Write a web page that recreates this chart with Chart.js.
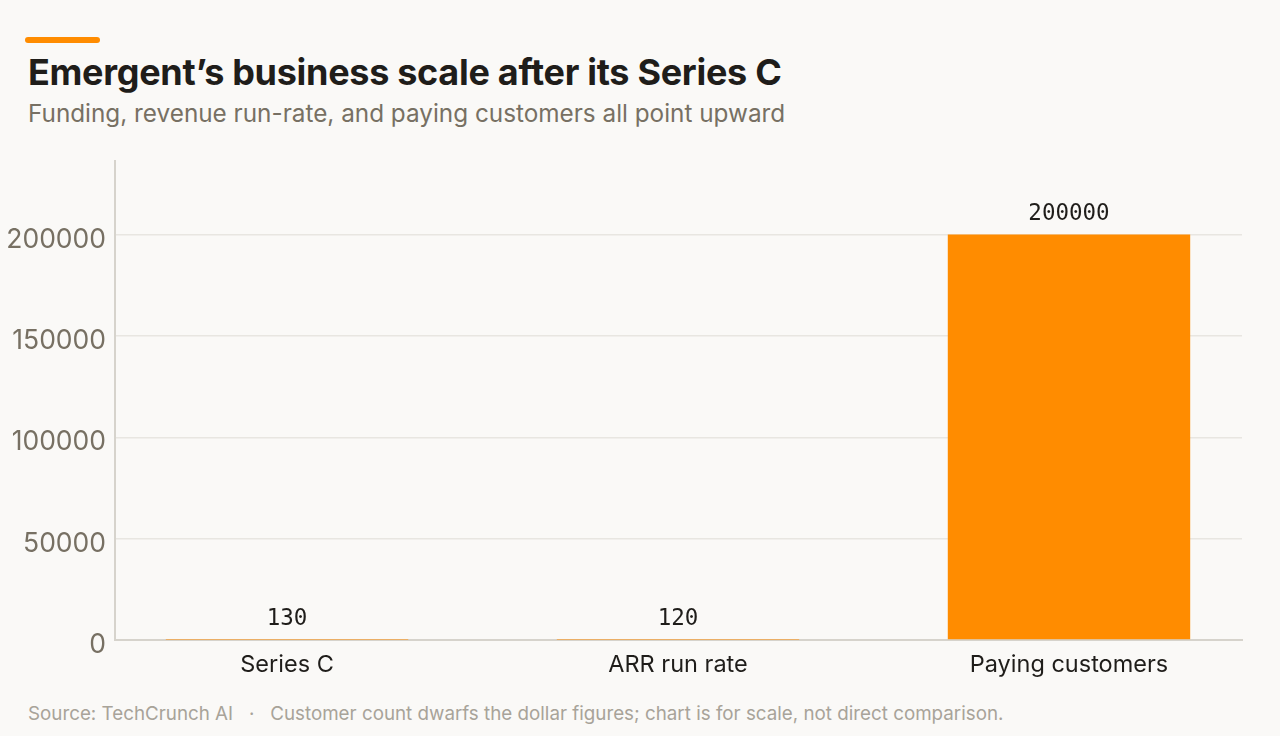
<!DOCTYPE html>
<html>
<head>
<meta charset="utf-8">
<script src="https://cdn.jsdelivr.net/npm/chart.js@4"></script>
<style>
  html, body { margin: 0; padding: 0; background: #faf9f7; }
  body { width: 1280px; height: 736px; position: relative; overflow: hidden; font-family: Inter, sans-serif; }
  .accent { position: absolute; left: 25px; top: 37px; width: 75px; height: 6px; border-radius: 3px; background: #ff8c00; }
  h1 { position: absolute; left: 28px; top: 50px; margin: 0; font-size: 36px; font-weight: 700; color: #1f1d1a; letter-spacing: -0.3px; white-space: nowrap; line-height: 44px; }
  .sub { position: absolute; left: 28px; top: 98px; font-size: 24.3px; color: #777063; white-space: nowrap; line-height: 30px; }
  .foot { position: absolute; left: 28px; top: 702px; font-size: 18.8px; color: #a8a399; white-space: nowrap; line-height: 24px; }
  #wrap { position: absolute; left: 0; top: 0; width: 1280px; height: 736px; }
</style>
</head>
<body>
<div class="accent"></div>
<h1>Emergent’s business scale after its Series C</h1>
<div class="sub">Funding, revenue run-rate, and paying customers all point upward</div>
<div class="foot">Source: TechCrunch AI &nbsp;&nbsp;·&nbsp;&nbsp; Customer count dwarfs the dollar figures; chart is for scale, not direct comparison.</div>
<div id="wrap"><canvas id="chart"></canvas></div>
<script>
// Данные
const categories = ['Series C', 'ARR run rate', 'Paying customers'];
const values = [130, 120, 200000];
const yTicks = [0, 50000, 100000, 150000, 200000];

const ORANGE = '#ff8c00';

// Подписи значений над столбцами
const valueLabels = {
    id: 'valueLabels',
    afterDatasetsDraw(chart) {
        const { ctx } = chart;
        const meta = chart.getDatasetMeta(0);
        ctx.save();
        ctx.font = '22.5px "DejaVu Sans Mono", monospace';
        ctx.fillStyle = '#1f1d1a';
        ctx.textAlign = 'center';
        ctx.textBaseline = 'alphabetic';
        meta.data.forEach((bar, i) => {
            ctx.fillText(String(values[i]), bar.x, bar.y - 15);
        });
        ctx.restore();
    }
};

new Chart(document.getElementById('chart'), {
    type: 'bar',
    data: {
        datasets: [{
            data: values.map((v, i) => ({ x: i, y: v })),
            backgroundColor: ORANGE,
            borderWidth: 0,
            categoryPercentage: 1,
            barPercentage: 0.62
        }]
    },
    options: {
        responsive: true,
        maintainAspectRatio: false,
        animation: false,
        layout: { padding: { top: 161, right: 38, left: 0, bottom: 0 } },
        plugins: {
            legend: { display: false },
            tooltip: { enabled: false }
        },
        scales: {
            x: {
                type: 'linear',
                offset: false,
                min: -0.44,
                max: 2.4425,
                afterBuildTicks: scale => { scale.ticks = categories.map((c, i) => ({ value: i })); },
                afterFit: scale => { scale.height = 96; },
                grid: { display: false },
                border: { color: '#d6d3cc', width: 2 },
                ticks: {
                    callback: v => categories[v] ?? '',
                    color: '#1f1d1a',
                    font: { family: 'Inter', size: 23.5 },
                    padding: 3,
                    maxRotation: 0
                }
            },
            y: {
                min: 0,
                max: 236300,
                afterBuildTicks: scale => { scale.ticks = yTicks.map(v => ({ value: v })); },
                afterFit: scale => { scale.width = 115; },
                grid: { color: '#e8e6e1', lineWidth: 1.5, drawTicks: false },
                border: { color: '#d6d3cc', width: 2 },
                ticks: {
                    callback: v => String(v),
                    color: '#777063',
                    font: { family: 'Inter', size: 26.5 },
                    padding: 9,
                    labelOffset: 5
                }
            }
        }
    },
    plugins: [valueLabels]
});
</script>
</body>
</html>
